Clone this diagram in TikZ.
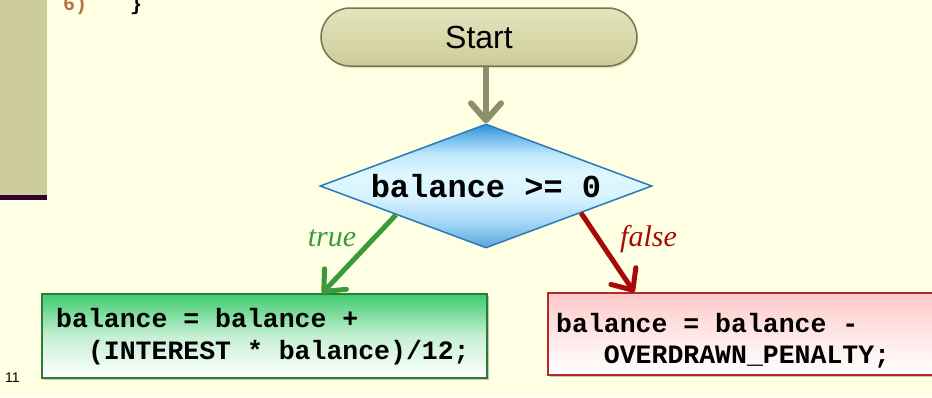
\documentclass[tikz,border=0pt]{standalone}
\usepackage{fontspec}
\setmainfont{Liberation Serif}
\setsansfont{Liberation Sans}
\setmonofont{Liberation Mono}
\usetikzlibrary{shapes.geometric,shadows,arrows.meta,calc}

\definecolor{pagebg}{HTML}{FFFFE3}
\definecolor{sidebar}{HTML}{CCCC9C}
\definecolor{sidebarline}{HTML}{330033}
\definecolor{codebrown}{HTML}{B3743F}
\definecolor{starttop}{HTML}{E4E4BE}
\definecolor{startbot}{HTML}{CDCD9A}
\definecolor{startedge}{HTML}{77774D}
\definecolor{flowolive}{HTML}{8F8F6B}
\definecolor{decedge}{HTML}{2A7AB8}
\definecolor{truegreen}{HTML}{3A9A3A}
\definecolor{falsered}{HTML}{A80808}
\definecolor{gtop}{HTML}{3FCB6E}
\definecolor{gedge}{HTML}{2E7A3A}
\definecolor{rtop}{HTML}{FFC8C8}
\definecolor{redge}{HTML}{B22A2A}

% blue decision fill: dark at the top vertex, pale around the text, bluer at the bottom
\pgfdeclareverticalshading{decshade}{100bp}{%
  color(0bp)=(rgb,255:red,90;green,165;blue,221);
  color(25bp)=(rgb,255:red,90;green,165;blue,221);
  color(35bp)=(rgb,255:red,163;green,214;blue,245);
  color(46bp)=(rgb,255:red,218;green,244;blue,255);
  color(55bp)=(rgb,255:red,222;green,247;blue,255);
  color(63bp)=(rgb,255:red,189;green,231;blue,251);
  color(70bp)=(rgb,255:red,109;green,184;blue,234);
  color(75bp)=(rgb,255:red,46;green,143;blue,213);
  color(100bp)=(rgb,255:red,46;green,143;blue,213)}

\tikzset{
  codefont/.style={font=\fontsize{26.5}{33}\selectfont\ttfamily\bfseries},
  codeline/.style={codefont, anchor=base west, inner sep=0pt},
  startbox/.style={draw=startedge, line width=1.5pt, top color=starttop, bottom color=startbot,
    minimum width=316pt, minimum height=58pt, rounded corners=29pt,
    font=\fontsize{32}{38}\selectfont\sffamily,
    drop shadow={shadow xshift=1pt, shadow yshift=-2pt, opacity=0.25}},
  decbox/.style={diamond, draw=decedge, line width=1.5pt, aspect=2.68, inner sep=0pt,
    minimum width=332pt, minimum height=124pt, shading=decshade,
    font=\fontsize{32}{38}\selectfont\ttfamily\bfseries},
  truebox/.style={draw=gedge, line width=1.5pt, top color=gtop, bottom color=white,
    middle color=gtop!30!white, minimum width=445pt, minimum height=84pt,
    drop shadow={shadow xshift=2pt, shadow yshift=-2pt, opacity=0.45}},
  falsebox/.style={draw=redge, line width=1.5pt, top color=rtop, bottom color=white,
    middle color=rtop!45!white, minimum width=420pt, minimum height=82pt,
    drop shadow={shadow xshift=2pt, shadow yshift=-2pt, opacity=0.45}},
  flow/.style={line width=5pt, -{Straight Barb[length=17pt,width=30pt,round]}},
  branchlabel/.style={font=\fontsize{30}{34}\selectfont\itshape, anchor=base, inner sep=0pt},
}

\begin{document}
\begin{tikzpicture}[x=1pt,y=-1pt]
  % page and clipping window
  \useasboundingbox (0,0) rectangle (932,397);
  \clip (0,0) rectangle (932,397);
  \fill[pagebg] (0,0) rectangle (932,397);

  % left sidebar of the slide
  \fill[sidebar] (0,0) rectangle (47,195);
  \fill[sidebarline] (0,195) rectangle (47,200);

  % tail of the code listing above
  \node[anchor=base west, inner sep=0pt, text=codebrown,
        font=\fontsize{20}{24}\selectfont\ttfamily\bfseries] (ln) at (63,10) {6)};
  \node[anchor=base west, inner sep=0pt,
        font=\fontsize{20}{24}\selectfont\ttfamily\bfseries] (brace) at (130,10) {\}};

  % slide number
  \node[anchor=base west, inner sep=0pt, font=\fontsize{14}{16}\selectfont\sffamily]
        (pageno) at (5,382) {11};

  % flowchart nodes
  \node[startbox] (start) at (479,37) {Start};
  \node[decbox] (dec) at (486,186) {balance >= 0};
  \node[truebox] (tbox) at (264.5,336) {};
  \node[falsebox] (fbox) at (758,334) {};

  % statements inside the two branch boxes
  \node[codeline] (t1) at (56,327) {balance = balance +};
  \node[codeline] (t2) at (56,359) {\hphantom{MM}(INTEREST * balance)/12;};
  \node[codeline] (f1) at (556,332) {balance = balance -};
  \node[codeline] (f2) at (556,363) {\hphantom{MMM}OVERDRAWN\_PENALTY;};

  % connectors
  \draw[flow, flowolive, line width=6pt] (start.south -| dec.north) -- (dec.north);
  \draw[flow, truegreen] ($(dec.west)!0.46!(dec.south)$) -- ($(tbox.north west)!0.629!(tbox.north east)$);
  \draw[flow, falsered] ($(dec.east)!0.43!(dec.south)$) -- ($(fbox.north west)+(87,0)$);

  % branch labels
  \node[branchlabel, text=truegreen] (tlab) at (332,246) {true};
  \node[branchlabel, text=falsered] (flab) at (648.5,246) {false};
\end{tikzpicture}
\end{document}
